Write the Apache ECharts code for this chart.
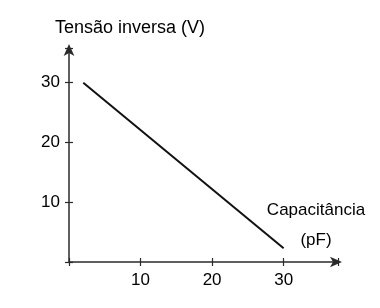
<!DOCTYPE html>
<html>
<head>
<meta charset="utf-8">
<script src="https://cdn.jsdelivr.net/npm/echarts@6/dist/echarts.min.js"></script>
<style>html,body{margin:0;padding:0;background:#fff}#c{width:380px;height:308px}</style>
</head>
<body>
<div id="c"></div>
<script>
const capacitance = [2, 30];
const voltage = [30, 2.3];
const xTicks = [10, 20, 30];
const yTicks = [10, 20, 30];
const yTitle = 'Tensão inversa (V)';
const xTitle = ['Capacitância', '(pF)'];

const chart = echarts.init(document.getElementById('c'), null, {renderer: 'canvas'});
const font = '"Liberation Sans", Arial, sans-serif';
const axisColor = '#2a2a2a';
const lbl = {show: true, fontFamily: font, fontSize: 17, color: '#000'};
chart.setOption({
  animation: false,
  backgroundColor: '#fff',
  grid: {left: 69, right: 42, top: 48, bottom: 46},
  xAxis: [{
    type: 'value', min: 0, max: 37.6, interval: 10,
    axisLine: {show: true, lineStyle: {color: axisColor, width: 1.5}, symbol: ['none', 'arrow'], symbolSize: [8, 12], symbolOffset: [0, 4]},
    axisTick: {show: true, length: 4, lineStyle: {color: axisColor, width: 1.2}},
    axisLabel: Object.assign({}, lbl, {margin: 10, formatter: v => xTicks.includes(v) ? String(v) : ''}),
    splitLine: {show: false}
  }, {
    type: 'value', min: 0, max: 37.6, interval: 10, position: 'bottom',
    axisLine: {show: false},
    axisTick: {show: true, inside: true, length: 4, lineStyle: {color: axisColor, width: 1.2}},
    axisLabel: {show: false}, splitLine: {show: false}
  }],
  yAxis: [{
    type: 'value', min: 0, max: 35.8, interval: 10,
    axisLine: {show: true, lineStyle: {color: axisColor, width: 1.5}, symbol: ['none', 'arrow'], symbolSize: [8, 12], symbolOffset: [0, 4]},
    axisTick: {show: true, length: 4, lineStyle: {color: axisColor, width: 1.2}},
    axisLabel: Object.assign({}, lbl, {margin: 9, formatter: v => yTicks.includes(v) ? String(v) : ''}),
    splitLine: {show: false}
  }, {
    type: 'value', min: 0, max: 35.8, interval: 10, position: 'left',
    axisLine: {show: false},
    axisTick: {show: true, inside: true, length: 4, lineStyle: {color: axisColor, width: 1.2}},
    axisLabel: {show: false}, splitLine: {show: false}
  }],
  graphic: [
    {type: 'text', left: 55, top: 19, style: {text: yTitle, font: '18px ' + font, fill: '#000'}},
    {type: 'text', x: 316, y: 210, style: {text: xTitle[0], font: '17px ' + font, fill: '#000', textAlign: 'center', textVerticalAlign: 'middle'}},
    {type: 'text', x: 316, y: 240, style: {text: xTitle[1], font: '17px ' + font, fill: '#000', textAlign: 'center', textVerticalAlign: 'middle'}}
  ],
  series: [{
    type: 'line',
    data: capacitance.map((c, i) => [c, voltage[i]]),
    symbol: 'none',
    lineStyle: {color: '#111', width: 2}
  }]
});
</script>
</body>
</html>
